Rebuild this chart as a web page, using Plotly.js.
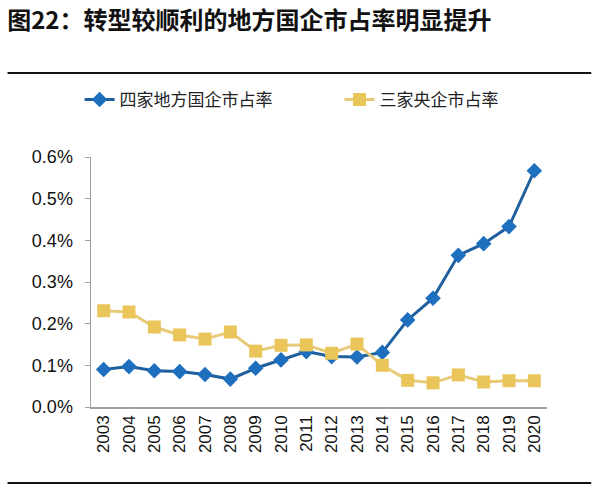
<!DOCTYPE html>
<html><head><meta charset="utf-8">
<script src="https://cdn.plot.ly/plotly-3.0.1.min.js"></script>
<style>body{margin:0;background:#fff}#c{width:600px;height:490px}</style>
</head><body><div id="c"></div>
<script>
const years = ["2003","2004","2005","2006","2007","2008","2009","2010","2011","2012","2013","2014","2015","2016","2017","2018","2019","2020"];
const localSOE = [0.090,0.097,0.087,0.085,0.078,0.067,0.093,0.113,0.133,0.121,0.120,0.131,0.209,0.261,0.364,0.392,0.433,0.567];
const centralSOE = [0.231,0.228,0.192,0.173,0.163,0.180,0.134,0.148,0.149,0.129,0.151,0.100,0.064,0.058,0.077,0.060,0.063,0.063];
const seriesNames = ["四家地方国企市占率","三家央企市占率"];
const yTicks = [0,0.1,0.2,0.3,0.4,0.5,0.6];
const yTickText = ["0.0%","0.1%","0.2%","0.3%","0.4%","0.5%","0.6%"];

const traces = [
 {x:years,y:localSOE,name:seriesNames[0],type:'scatter',mode:'lines+markers',legend:'legend',
  line:{color:'#1F5F9E',width:3},marker:{symbol:'diamond',size:12,color:'#1E6FBE'}},
 {x:years,y:centralSOE,name:seriesNames[1],type:'scatter',mode:'lines+markers',legend:'legend2',
  line:{color:'#E8CB78',width:3},marker:{symbol:'square',size:13,color:'#E9C55A'}}
];
const legFont = {family:'Noto Sans CJK SC',size:17,color:'#222'};
const layout = {
 width:600,height:490,margin:{l:91,r:53,t:157,b:83},
 paper_bgcolor:'#fff',plot_bgcolor:'#fff',
 font:{family:'Liberation Sans, Arial, sans-serif',color:'#000'},
 title:{text:'<b>图22：转型较顺利的地方国企市占率明显提升</b>',x:0.012,xanchor:'left',xref:'container',y:0.957,yanchor:'middle',yref:'container',
  font:{family:'Noto Sans CJK SC',size:24,color:'#111'}},
 showlegend:true,
 legend:{orientation:'h',x:-0.025,xanchor:'left',y:1.228,yanchor:'middle',font:legFont,bgcolor:'rgba(0,0,0,0)'},
 legend2:{orientation:'h',x:0.545,xanchor:'left',y:1.228,yanchor:'middle',font:legFont,bgcolor:'rgba(0,0,0,0)'},
 xaxis:{type:'category',tickangle:-90,tickfont:{size:17,color:'#111'},showline:true,linecolor:'#A0A0A0',linewidth:1.5,
  showgrid:false,ticks:'',zeroline:false,range:[-0.5,17.5]},
 yaxis:{range:[0,0.6],tickvals:yTicks,ticktext:yTickText,tickfont:{size:18,color:'#111'},showline:true,linecolor:'#A0A0A0',linewidth:1.5,
  ticks:'outside',ticklen:5,tickcolor:'#A0A0A0',ticklabelstandoff:8,showgrid:false,zeroline:false},
 shapes:[
  {type:'line',xref:'paper',yref:'paper',x0:-0.183,x1:1.097,y0:1.336,y1:1.336,line:{color:'#111',width:2}},
  {type:'line',xref:'paper',yref:'paper',x0:-0.183,x1:1.097,y0:-0.304,y1:-0.304,line:{color:'#111',width:2}}
 ]
};
Plotly.newPlot('c',traces,layout,{displayModeBar:false,staticPlot:true});
</script></body></html>
